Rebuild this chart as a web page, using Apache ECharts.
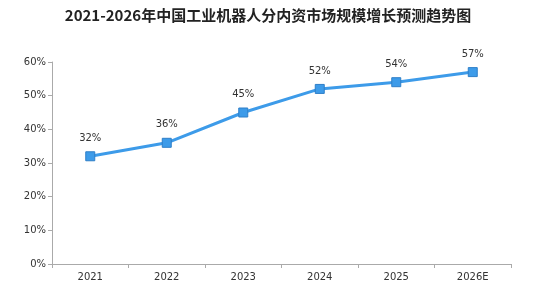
<!DOCTYPE html>
<html>
<head>
<meta charset="utf-8">
<script src="https://cdn.jsdelivr.net/npm/echarts@6/dist/echarts.min.js"></script>
<style>
  html, body { margin: 0; padding: 0; background: #fff; }
  #main { width: 558px; height: 293px; }
</style>
</head>
<body>
<div id="main"></div>
<script>
  var years = ['2021', '2022', '2023', '2024', '2025', '2026E'];
  var rates = [32, 36, 45, 52, 54, 57];
  var yTicks = [0, 10, 20, 30, 40, 50, 60];

  var myChart = echarts.init(document.getElementById('main'));

  var option = {
    animation: false,
    title: {
      text: '2021-2026年中国工业机器人分内资市场规模增长预测趋势图',
      left: 263,
      textAlign: 'center',
      top: 3,
      textStyle: {
        fontFamily: 'Noto Sans CJK SC',
        fontSize: 15,
        fontWeight: 'bold',
        color: '#222'
      }
    },
    grid: { left: 52, right: 47, top: 62, bottom: 29 },
    xAxis: {
      type: 'category',
      data: years,
      boundaryGap: true,
      axisLine: { lineStyle: { color: '#aaa', width: 1 } },
      axisTick: { show: true, alignWithLabel: false, length: 4, lineStyle: { color: '#aaa' } },
      axisLabel: { color: '#333', fontSize: 10, margin: 8, fontFamily: 'DejaVu Sans' }
    },
    yAxis: {
      type: 'value',
      min: yTicks[0],
      max: yTicks[yTicks.length - 1],
      interval: 10,
      axisLine: { show: true, lineStyle: { color: '#aaa', width: 1 } },
      axisTick: { show: true, length: 4, lineStyle: { color: '#aaa' } },
      splitLine: { show: false },
      axisLabel: { color: '#333', fontSize: 10, margin: 6, formatter: '{value}%', fontFamily: 'DejaVu Sans' }
    },
    series: [
      {
        type: 'line',
        data: rates,
        symbol: 'rect',
        symbolSize: 9,
        lineStyle: { color: '#3d9be9', width: 3 },
        itemStyle: { color: '#3d9be9', borderColor: '#2f7fc8', borderWidth: 1 },
        label: {
          show: true,
          position: 'top',
          distance: 8,
          formatter: '{c}%',
          color: '#333',
          fontSize: 10,
          fontFamily: 'DejaVu Sans'
        }
      }
    ]
  };

  myChart.setOption(option);
</script>
</body>
</html>
